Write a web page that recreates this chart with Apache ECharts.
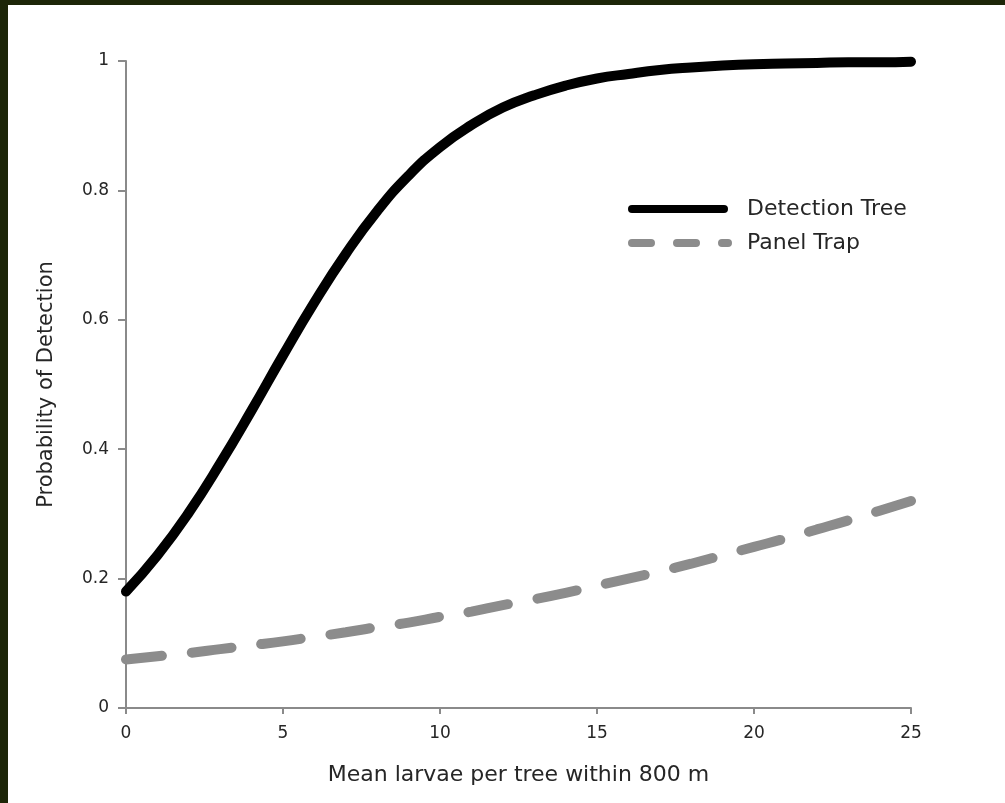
<!DOCTYPE html>
<html>
<head>
<meta charset="utf-8">
<script src="https://cdn.jsdelivr.net/npm/echarts@6/dist/echarts.min.js"></script>
<style>
  html, body { margin: 0; padding: 0; background: #1d2608; width: 1005px; height: 803px; overflow: hidden; }
  #chart { position: absolute; left: 8px; top: 5px; width: 997px; height: 798px; background: #fff; }
</style>
</head>
<body>
<div id="chart"></div>
<script>
// larvae per tree (x values)
const larvae = [0, 1, 2, 3, 4, 5, 6, 7, 8, 9, 10, 11, 12, 13, 14, 15, 16, 17, 18, 19, 20, 21, 22, 23, 24, 25];
const detectionTree = [0.18, 0.236, 0.302, 0.378, 0.46, 0.545, 0.627, 0.702, 0.768, 0.823, 0.867, 0.901, 0.928, 0.947, 0.962, 0.973, 0.98, 0.986, 0.99, 0.993, 0.995, 0.996, 0.997, 0.998, 0.998, 0.999];
const panelTrap = [0.075, 0.08, 0.085, 0.091, 0.097, 0.103, 0.11, 0.117, 0.125, 0.132, 0.141, 0.149, 0.159, 0.168, 0.178, 0.189, 0.2, 0.211, 0.223, 0.236, 0.249, 0.262, 0.276, 0.29, 0.305, 0.32];

const FONT = 'DejaVu Sans, Verdana, sans-serif';
const AXIS_GREY = '#8a8a8a';
const TEXT = '#262626';

const chart = echarts.init(document.getElementById('chart'), null, { renderer: 'canvas' });

const pairs = (ys) => larvae.map((x, i) => [x, ys[i]]);

chart.setOption({
  animation: false,
  backgroundColor: '#fff',
  grid: { left: 118, right: 94, top: 56, bottom: 95 },
  legend: {
    left: 620, top: 188,
    orient: 'vertical',
    itemWidth: 109, itemHeight: 14, itemGap: 12,
    textStyle: { fontFamily: FONT, fontSize: 22, color: TEXT },
    data: [
      { name: 'Detection Tree', icon: 'none', itemStyle: { opacity: 0 } },
      { name: 'Panel Trap', icon: 'none', itemStyle: { opacity: 0 } }
    ]
  },
  xAxis: {
    type: 'value', min: 0, max: 25, interval: 5,
    name: 'Mean larvae per tree within 800 m',
    nameLocation: 'middle', nameGap: 56,
    nameTextStyle: { fontFamily: FONT, fontSize: 22, color: TEXT },
    axisLine: { show: true, lineStyle: { color: AXIS_GREY, width: 2 } },
    axisTick: { show: true, length: 6, lineStyle: { color: AXIS_GREY, width: 2 } },
    axisLabel: { fontFamily: FONT, fontSize: 17, color: TEXT, margin: 17 },
    splitLine: { show: false }
  },
  yAxis: {
    type: 'value', min: 0, max: 1, interval: 0.2,
    name: 'Probability of Detection',
    nameLocation: 'middle', nameGap: 69,
    nameTextStyle: { fontFamily: FONT, fontSize: 21, color: TEXT },
    axisLine: { show: true, lineStyle: { color: AXIS_GREY, width: 2 } },
    axisTick: { show: true, length: 8, lineStyle: { color: AXIS_GREY, width: 2 } },
    axisLabel: { fontFamily: FONT, fontSize: 17, color: TEXT, margin: 17,
      formatter: v => String(Math.round(v * 10) / 10) },
    splitLine: { show: false }
  },
  series: [
    {
      name: 'Detection Tree', type: 'line', smooth: true, symbol: 'none',
      data: pairs(detectionTree),
      lineStyle: { color: '#000', width: 10, cap: 'round' },
      itemStyle: { color: '#000' }
    },
    {
      name: 'Panel Trap', type: 'line', smooth: true, symbol: 'none',
      data: pairs(panelTrap),
      lineStyle: { color: '#8c8c8c', width: 10, type: [40, 30], dashOffset: 4, cap: 'round' },
      itemStyle: { color: '#8c8c8c' }
    }
  ],
  graphic: [
    // legend swatches
    { type: 'line', shape: { x1: 624, y1: 204, x2: 716, y2: 204 },
      style: { stroke: '#000', lineWidth: 8, lineCap: 'round' } },
    { type: 'line', shape: { x1: 624, y1: 238, x2: 720, y2: 238 },
      style: { stroke: '#8c8c8c', lineWidth: 8, lineCap: 'round', lineDash: [19, 26] } }
  ]
});
</script>
</body>
</html>
